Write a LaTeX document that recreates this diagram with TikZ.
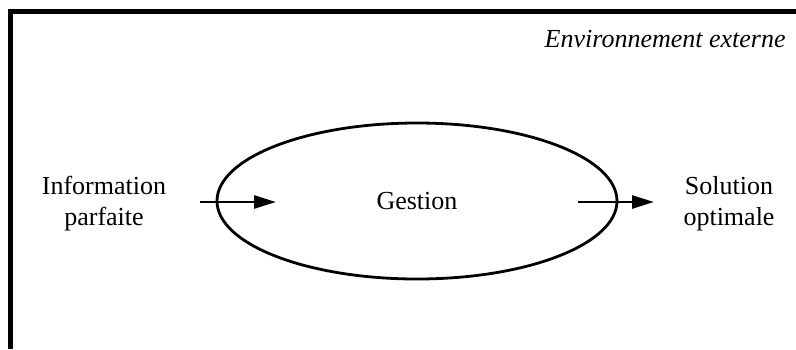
\documentclass[tikz,border=0pt]{standalone}
\usepackage{fontspec}
\setmainfont{Liberation Serif}
\usepackage{tikz}
\usetikzlibrary{shapes.geometric,arrows.meta}

\tikzset{
  txt/.style={inner sep=0pt, align=center, font=\fontsize{13}{15.5}\selectfont},
  flow/.style={-{Triangle[length=11pt,width=6.5pt]}, line width=1.35pt},
}

\begin{document}
\begin{tikzpicture}[x=0.5pt,y=-0.5pt]
        \useasboundingbox (0,0) rectangle (796,349);
        \draw[line width=2.5pt] (10.5,349) -- (10.5,11.5) -- (796,11.5);
        \node[txt,anchor=base east] at (786,47) (env) {\textit{Environnement externe}};
        \node[txt] at (104,203.5) (info) {Information\\parfaite};
        \node[txt] at (729,203.5) (sol) {Solution\\optimale};
        \node[txt,draw,ellipse,line width=1.4pt,minimum width=200pt,minimum height=78pt] at (417,201) (gestion) {Gestion};
        \coordinate (infoout) at (200,202);
        \coordinate (gestin) at (276,202);
        \coordinate (gestout) at (578,202);
        \coordinate (solin) at (654,202);
        \path[flow]
        (infoout) edge (gestin)
        (gestout) edge (solin)
        ;
    \end{tikzpicture}
\end{document}
